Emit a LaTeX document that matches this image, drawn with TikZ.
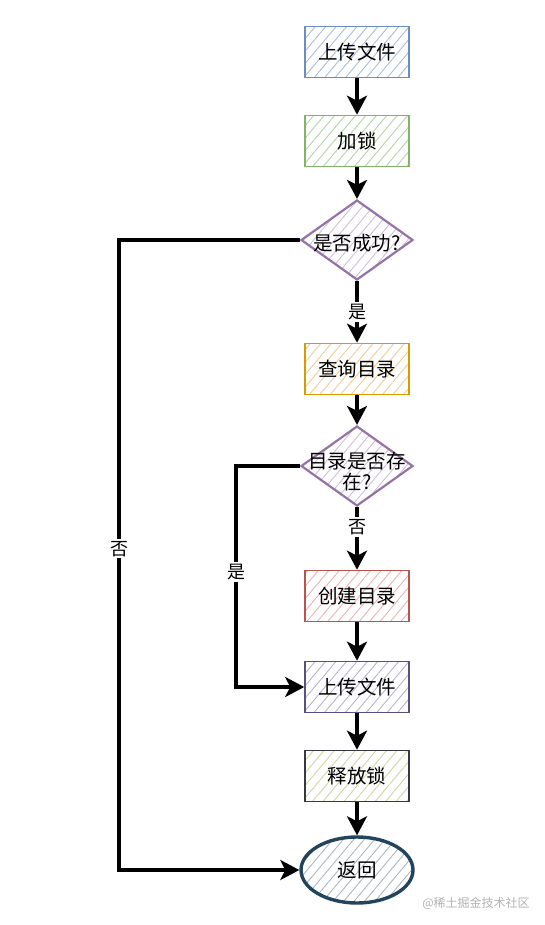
\documentclass[tikz,border=0pt]{standalone}
\usepackage{fontspec}
\setmainfont{Noto Sans CJK SC}
\usetikzlibrary{shapes.geometric,arrows.meta,patterns.meta}
\definecolor{bBlue}{HTML}{6C8EBF}\definecolor{hBlue}{HTML}{A9BEDF}
\definecolor{bGreen}{HTML}{82B366}\definecolor{hGreen}{HTML}{B3D6A4}
\definecolor{bPurple}{HTML}{9673A6}\definecolor{hPurple}{HTML}{D0C0DA}
\definecolor{bOrange}{HTML}{D79B00}\definecolor{hOrange}{HTML}{F2CC96}
\definecolor{bRed}{HTML}{B85450}\definecolor{hRed}{HTML}{EBB5B2}
\definecolor{bViolet}{HTML}{56517E}\definecolor{hViolet}{HTML}{B8B4D6}
\definecolor{bDark}{HTML}{36393D}\definecolor{hDark}{HTML}{D3D5A4}
\definecolor{bNavy}{HTML}{23445D}\definecolor{hNavy}{HTML}{AEB7C0}
\begin{document}
\begin{tikzpicture}[x=1pt,y=-1pt,
  hatch/.style={pattern={Lines[angle=50,distance=8pt,line width=0.9pt]},pattern color=#1},
  box/.style={rectangle,line width=1.6pt,minimum width=104pt,minimum height=51pt,inner sep=0pt,
    font=\fontsize{19.5}{22}\selectfont,preaction={fill=white}},
  dia/.style={diamond,line width=2.2pt,minimum width=112pt,minimum height=80pt,inner sep=0pt,
    preaction={fill=white}},
  txt/.style={font=\fontsize{19.5}{21}\selectfont,align=center,inner sep=0pt},
  lab/.style={font=\fontsize{18}{20}\selectfont,fill=white,inner sep=2pt},
  arr/.style={line width=3.2pt,-{Stealth[length=19pt,width=20pt,inset=5pt]}},
  line/.style={line width=3.2pt}]
\useasboundingbox (0,0) rectangle (544,925);
\node[box,draw=bBlue,hatch=hBlue] (b1) at (357,52) {上传文件};
\node[box,draw=bGreen,hatch=hGreen] (b2) at (357,141) {加锁};
\node[dia,draw=bPurple,hatch=hPurple] (d1) at (357,240) {};
\node[txt] (t1) at (357,243) {是否成功?};
\node[box,draw=bOrange,hatch=hOrange] (b3) at (357,369) {查询目录};
\node[dia,draw=bPurple,hatch=hPurple] (d2) at (357,466) {};
\node[txt] (t2) at (357,472) {目录是否存\\在?};
\node[box,draw=bRed,hatch=hRed] (b4) at (357,596) {创建目录};
\node[box,draw=bViolet,hatch=hViolet] (b5) at (357,687) {上传文件};
\node[box,draw=bDark,hatch=hDark] (b6) at (357,776) {释放锁};
\node[ellipse,line width=3.4pt,draw=bNavy,hatch=hNavy,preaction={fill=white},
  minimum width=112pt,minimum height=66pt,font=\fontsize{19.5}{22}\selectfont] (e) at (357,870) {返回};
\coordinate (c1) at (119,240);
\coordinate (c2) at (236,466);
\draw[arr] (b1) -- (b2);
\draw[arr] (b2) -- (d1.north);
\draw[arr] (d1.south) -- node[lab] (l1) {是} (b3);
\draw[arr] (b3) -- (d2.north);
\draw[arr] (d2.south) -- node[lab,pos=0.32] (l2) {否} (b4);
\draw[arr] (b4) -- (b5);
\draw[arr] (b5) -- (b6);
\draw[arr] (b6) -- (e.north);
\draw[arr] (d1.west) -- (c1) |- node[lab,pos=0.245] (l3) {否} (e.west);
\draw[arr] (d2.west) -- (c2) |- node[lab,pos=0.24] (l4) {是} (b5.west);
\node[font=\fontsize{12}{14}\selectfont,text=black!30] (wm) at (476,903) {@稀土掘金技术社区};
\end{tikzpicture}
\end{document}
